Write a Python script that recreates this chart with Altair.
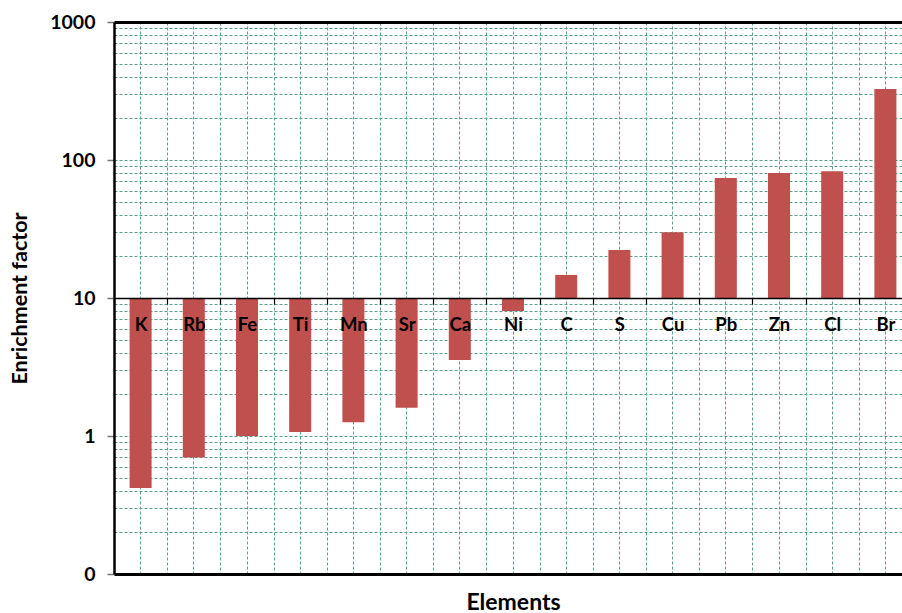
import altair as alt
import pandas as pd

# Enrichment factors per element (log scale, bars hang from the reference level 10)
elements = ["K", "Rb", "Fe", "Ti", "Mn", "Sr", "Ca", "Ni", "C", "S", "Cu", "Pb", "Zn", "Cl", "Br"]
enrichment = [0.42, 0.70, 1.0, 1.07, 1.26, 1.6, 3.56, 8.05, 14.7, 22.3, 30, 74, 80.5, 83, 327]
reference_level = 10

decades = [0.1, 1, 10, 100, 1000]
grid_values = [m * d for d in decades[:-1] for m in range(1, 10)] + [1000]

df = pd.DataFrame({"element": elements, "ef": enrichment})

FONT = "Lato"
GRID = "#5a9e8e"
PLOT_W, PLOT_H = 788, 552

x_scale = alt.Scale(range=[0, 798], paddingInner=0, paddingOuter=0)
y_scale = alt.Scale(type="log", domain=[0.1, 1000])

is_decade = "abs(log(datum.value)/LN10 - round(log(datum.value)/LN10)) < 0.001"

y_axis = alt.Axis(
    values=grid_values,
    labelExpr=f"({is_decade}) ? (datum.value < 0.5 ? '0' : format(datum.value, 'd')) : ''",
    labelFont=FONT, labelFontSize=19.5, labelFontWeight="bold", labelColor="black",
    labelPadding=12,
    tickSize=7, tickColor="#777", tickWidth=1.5,
    tickOpacity={"condition": {"test": is_decade, "value": 1}, "value": 0},
    domainColor="black", domainWidth=2.5,
    grid=True, gridColor=GRID, gridDash=[3, 2], gridWidth=1,
    title="Enrichment factor", titleFont=FONT, titleFontSize=21.5, titleFontWeight="bold",
    titleColor="black", titlePadding=18, zindex=0,
)

# Axis on the reference line: element labels and band-edge ticks
axis_ref = alt.Axis(
    orient="bottom", offset=-PLOT_H / 2, tickBand="extent",
    labelFont=FONT, labelFontSize=18.5, labelFontWeight="bold", labelColor="black",
    labelAngle=0, labelPadding=11,
    ticks=True, tickSize=6, tickColor="black", tickWidth=1.2,
    domainColor="black", domainWidth=1.5,
    grid=False, title=None, zindex=1,
)

# Bottom frame line, band-edge grid and axis title
axis_bottom = alt.Axis(
    orient="bottom", tickBand="extent", labels=False, ticks=False,
    domainColor="black", domainWidth=3,
    grid=True, gridColor=GRID, gridDash=[3, 2], gridWidth=1,
    title="Elements", titleFont=FONT, titleFontSize=23, titleFontWeight="bold",
    titleColor="black", titlePadding=17, titleX=399, zindex=0,
)

# Top frame line and band-centre grid
axis_top = alt.Axis(
    orient="top", tickBand="center", labels=False, ticks=False,
    domainColor="black", domainWidth=3,
    grid=True, gridColor=GRID, gridDash=[3, 2], gridWidth=1,
    title=None, zindex=0,
)

base = alt.Chart(df)

bars = base.mark_bar(color="#C0504D", width=alt.RelativeBandSize(0.414)).encode(
    x=alt.X("element:N", sort=elements, scale=x_scale, axis=axis_ref),
    y=alt.Y("ef:Q", scale=y_scale, axis=y_axis),
    y2=alt.datum(reference_level),
)

grid_edges = base.mark_point(opacity=0).encode(
    x=alt.X("element:N", sort=elements, scale=x_scale, axis=axis_bottom),
    y=alt.Y("ef:Q", scale=y_scale),
)

grid_centres = base.mark_point(opacity=0).encode(
    x=alt.X("element:N", sort=elements, scale=x_scale, axis=axis_top),
    y=alt.Y("ef:Q", scale=y_scale),
)

chart = (
    alt.layer(grid_edges, grid_centres, bars)
    .resolve_axis(x="independent")
    .properties(
        width=PLOT_W, height=PLOT_H,
        autosize=alt.AutoSizeParams(type="none"),
        padding={"left": 114, "top": 22, "right": 0, "bottom": 39},
    )
    .configure_view(strokeWidth=0)
    .configure(background="white")
)

chart.save("out.html", embed_options={"renderer": "svg", "actions": False})
